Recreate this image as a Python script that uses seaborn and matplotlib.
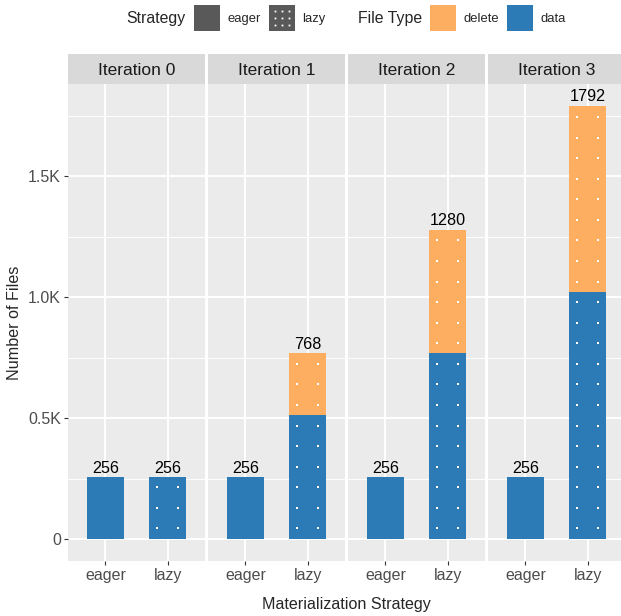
import numpy as np
import pandas as pd
import matplotlib
matplotlib.use("Agg")
import matplotlib.pyplot as plt
import seaborn as sns
from matplotlib.patches import Rectangle, Patch
from matplotlib.lines import Line2D
from matplotlib.legend_handler import HandlerBase
from matplotlib.ticker import FixedLocator, FuncFormatter

# ---- data -------------------------------------------------------------
iterations = ["Iteration 0", "Iteration 1", "Iteration 2", "Iteration 3"]
strategies = ["eager", "lazy"]
data_files_eager = [256, 256, 256, 256]
delete_files_eager = [0, 0, 0, 0]
data_files_lazy = [256, 512, 768, 1024]
delete_files_lazy = [0, 256, 512, 768]
y_ticks = [0, 500, 1000, 1500]
y_minor_ticks = [250, 750, 1250, 1750]

rows = []
for k, it in enumerate(iterations):
    rows.append((it, "eager", data_files_eager[k], delete_files_eager[k]))
    rows.append((it, "lazy", data_files_lazy[k], delete_files_lazy[k]))
df = pd.DataFrame(rows, columns=["iteration", "strategy", "data", "delete"])
df["total"] = df["data"] + df["delete"]

# ---- style ------------------------------------------------------------
DATA_COLOR = "#2c7bb6"
DELETE_COLOR = "#fdae61"
KEY_GREY = "#595959"
PANEL_BG = "#ebebeb"
STRIP_BG = "#d9d9d9"
TICK_TXT = "#4d4d4d"

sns.set_style("white")
plt.rcParams["font.family"] = ["Liberation Sans", "DejaVu Sans"]

W, H = 621, 616
fig = plt.figure(figsize=(W / 100, H / 100), dpi=100)

panel_w, panel_gap = 137, 3
left0, top_px, bottom_px = 68, 84, 561
strip_px = 30
ymax = df["total"].max()
ypad = 0.05 * ymax
DOT_STEP = 85
DOT_X = 0.165


def k_format(v, _):
    return "0" if v == 0 else f"{v / 1000:.1f}K"


for i, it in enumerate(iterations):
    ax = fig.add_axes([(left0 + i * (panel_w + panel_gap)) / W, 1 - bottom_px / H,
                       panel_w / W, (bottom_px - top_px) / H])
    sub = df[df["iteration"] == it]
    sns.barplot(data=sub, x="strategy", y="total", order=strategies, color=DELETE_COLOR,
                width=0.6, saturation=1, errorbar=None, linewidth=0, ax=ax, zorder=2)
    sns.barplot(data=sub, x="strategy", y="data", order=strategies, color=DATA_COLOR,
                width=0.6, saturation=1, errorbar=None, linewidth=0, ax=ax, zorder=2)

    for j, s in enumerate(strategies):
        total = sub.loc[sub["strategy"] == s, "total"].iloc[0]
        if s == "lazy":
            # dotted fill pattern marking the lazy strategy
            ys = np.arange(0.53 * DOT_STEP, total - 0.4 * DOT_STEP, DOT_STEP)
            for dx in (-DOT_X, DOT_X):
                ax.plot(np.full_like(ys, j + dx), ys, ls="none", marker="s", ms=1.5,
                        mew=0, color="white", zorder=3)
        ax.annotate(f"{total}", (j, total), xytext=(0, 1.2), textcoords="offset points",
                    ha="center", va="bottom", fontsize=11.6, color="black")

    ax.set_facecolor(PANEL_BG)
    for sp in ax.spines.values():
        sp.set_visible(False)
    ax.set_xlim(-0.6, 1.6)
    ax.set_ylim(-ypad, ymax + ypad)
    ax.yaxis.set_major_locator(FixedLocator(y_ticks))
    ax.yaxis.set_minor_locator(FixedLocator(y_minor_ticks))
    ax.yaxis.set_major_formatter(FuncFormatter(k_format))
    ax.set_axisbelow(True)
    ax.grid(True, which="major", color="white", lw=1.4)
    ax.grid(True, which="minor", axis="y", color="white", lw=0.7)
    ax.set_xlabel("")
    ax.set_ylabel("")
    ax.tick_params(axis="both", which="major", colors="#333333", length=3.2, width=0.8,
                   labelsize=11.5, labelcolor=TICK_TXT, pad=1.8, left=True, bottom=True)
    ax.tick_params(axis="y", which="minor", length=0)
    if i > 0:
        ax.tick_params(axis="y", left=False, labelleft=False)

    strip_h = strip_px / (bottom_px - top_px)
    ax.add_patch(Rectangle((0, 1.0), 1, strip_h, transform=ax.transAxes,
                           facecolor=STRIP_BG, edgecolor="none", clip_on=False))
    ax.text(0.5, 1.0 + strip_h / 2, it, transform=ax.transAxes, ha="center",
            va="center_baseline", fontsize=12.5, color="#1a1a1a")

fig.text((left0 + (4 * panel_w + 3 * panel_gap) / 2) / W, 1 - 604 / H,
         "Materialization Strategy", ha="center", va="center", fontsize=11.6)
fig.text(15 / W, 1 - ((top_px + bottom_px) / 2) / H, "Number of Files",
         ha="center", va="center", rotation=90, fontsize=11.6)


# ---- legends ----------------------------------------------------------
class DottedKey(HandlerBase):
    def create_artists(self, legend, orig_handle, xdescent, ydescent, width, height,
                       fontsize, trans):
        rect = Rectangle((-xdescent, -ydescent), width, height,
                         facecolor=orig_handle.get_facecolor(), edgecolor="none",
                         transform=trans)
        fr = np.array([0.25, 0.5, 0.78])
        xx, yy = np.meshgrid(-xdescent + width * fr, -ydescent + height * fr)
        dots = Line2D(xx.ravel(), yy.ravel(), ls="none", marker="s", ms=1.3, mew=0,
                      color="white", transform=trans)
        return [rect, dots]


leg_kw = dict(loc="center left", ncol=2, frameon=False, fontsize=9.4, handlelength=2.0,
              handleheight=2.7, handletextpad=0.54, columnspacing=0.62, borderpad=0,
              borderaxespad=0)
eager_h = Patch(facecolor=KEY_GREY, lw=0)
lazy_h = Patch(facecolor=KEY_GREY, lw=0)
fig.legend([eager_h, lazy_h], strategies, handler_map={lazy_h: DottedKey()},
           bbox_to_anchor=(194 / W, 1 - 18 / H), **leg_kw)
fig.legend([Patch(facecolor=DELETE_COLOR, lw=0), Patch(facecolor=DATA_COLOR, lw=0)],
           ["delete", "data"], bbox_to_anchor=(430 / W, 1 - 18 / H), **leg_kw)
fig.text(126.7 / W, 1 - 18 / H, "Strategy", ha="left", va="center", fontsize=11.4)
fig.text(358 / W, 1 - 18 / H, "File Type", ha="left", va="center", fontsize=11.4)

fig.savefig("out.png", dpi=100)
